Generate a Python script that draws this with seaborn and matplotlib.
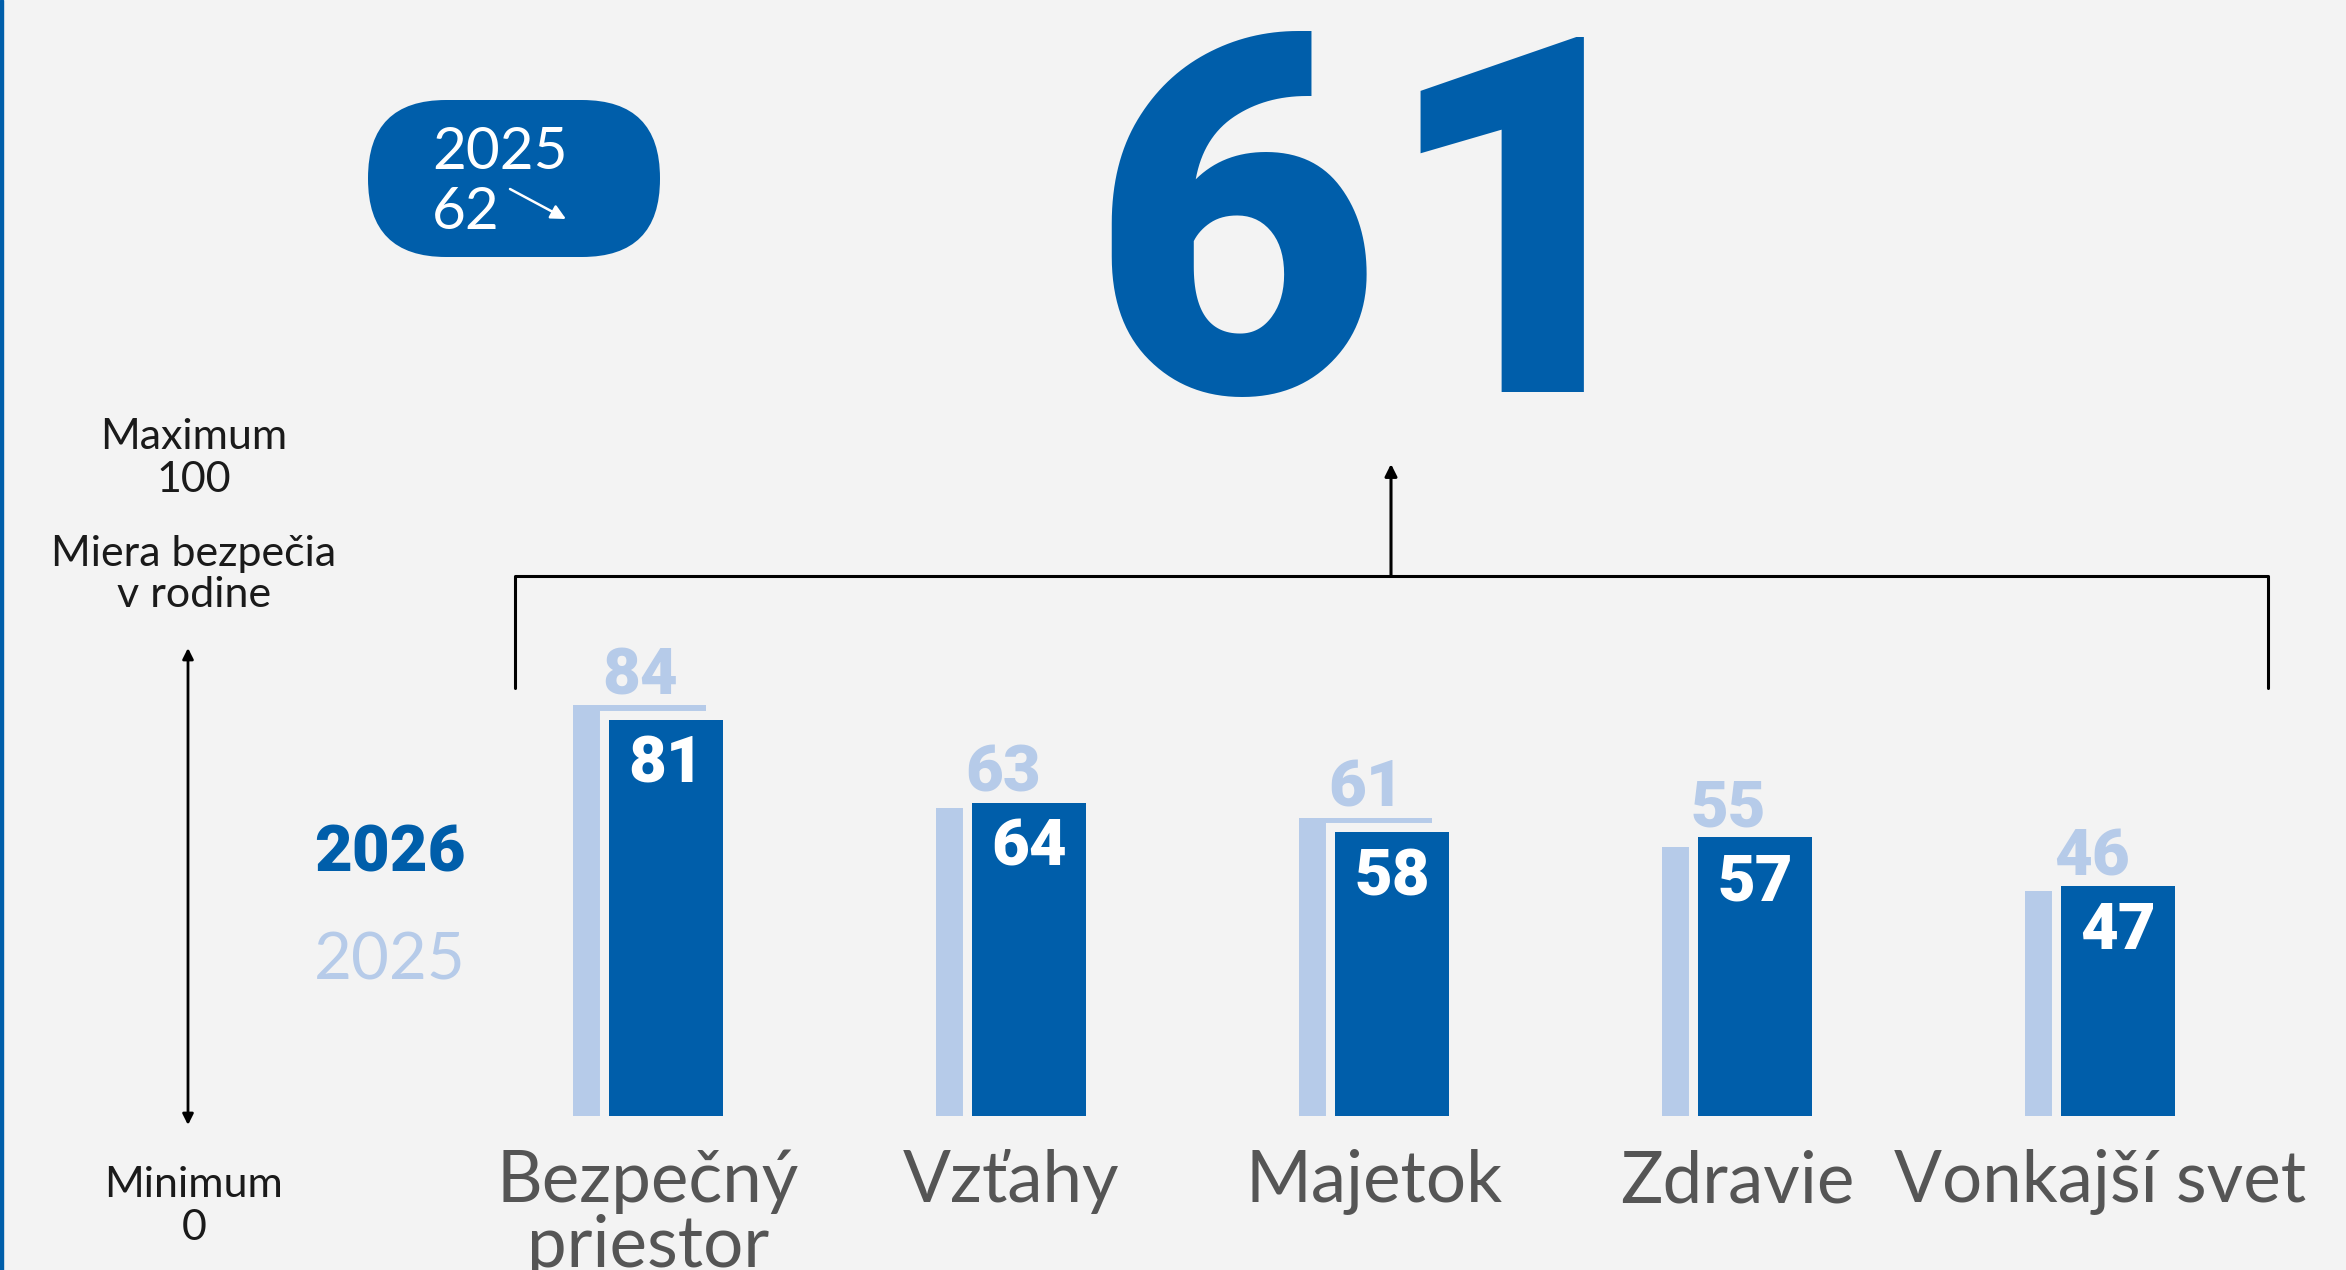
import matplotlib
matplotlib.use("Agg")
import matplotlib.pyplot as plt
import matplotlib.patheffects as pe
from matplotlib.patches import FancyBboxPatch
import seaborn as sns

# data
categories = ["Bezpečný\npriestor", "Vzťahy", "Majetok", "Zdravie", "Vonkajší svet"]
v2026 = [81, 64, 58, 57, 47]
v2025 = [84, 63, 61, 55, 46]
total_2026 = 61
total_2025 = 62

bg = "#f3f3f3"
dark = "#005eaa"
light = "#b6cbe9"
grey = "#555555"
ink = "#1a1a1a"
numfont = ["Roboto", "DejaVu Sans"]

sns.set_style("white")
plt.rcParams['font.family'] = ['Lato', 'DejaVu Sans']

W, H = 2346, 1270
fig = plt.figure(figsize=(W / 100, H / 100), dpi=100, facecolor=bg)

# overlay in pixel units (y down) for the decorations
over = fig.add_axes([0, 0, 1, 1], zorder=0)
over.set_xlim(0, W)
over.set_ylim(H, 0)
over.axis("off")

# bar axes
ax = fig.add_axes([466.5 / W, 154 / H, 1815 / W, 489 / H], zorder=1)
ax.patch.set_visible(False)

sns.barplot(x=categories, y=v2025, color=light, width=0.366, saturation=1, ax=ax)
n_light = len(ax.patches)
sns.barplot(x=categories, y=v2026, color=dark, width=0.314, saturation=1, ax=ax)
light_bars = ax.patches[:n_light]
dark_bars = ax.patches[n_light:]

for p in light_bars:
    p.set_x(p.get_x() - 0.023)
    p.set_linewidth(0)
for p in dark_bars:
    p.set_x(p.get_x() + 0.05)
    p.set_linewidth(0)
    p.set_path_effects([pe.withStroke(linewidth=13, foreground=bg)])

ax.set_ylim(0, 100)
ax.set_xlim(-0.5, 4.5)
ax.set_yticks([])
ax.set_ylabel("")
ax.tick_params(axis="x", length=0, pad=24, labelsize=51, labelcolor=grey)
for t in ax.get_xticklabels():
    t.set_linespacing(1.0)
sns.despine(ax=ax, left=True, bottom=True)

# value labels
for p, v in zip(dark_bars, v2026):
    ax.annotate(str(v), (p.get_x() + p.get_width() / 2, p.get_height()),
                xytext=(0, -10), textcoords="offset points", ha="center", va="top",
                color="white", fontsize=47, fontweight="black", family=numfont)
for p, v, v2 in zip(light_bars, v2025, v2026):
    ax.annotate(str(v), (p.get_x() + p.get_width() / 2, max(v, v2)),
                xytext=(0, 8), textcoords="offset points", ha="center", va="baseline",
                color=light, fontsize=47, fontweight="black", family=numfont)

# left blue border
over.axvspan(0, 3, color=dark)

# big total
over.text(1380, 392, str(total_2026), ha="center", va="baseline", color=dark,
          fontsize=360, fontweight="black", family=numfont)

# pill with previous year
pill = FancyBboxPatch((368, 100), 292, 157, boxstyle="round,pad=0,rounding_size=78",
                      fc=dark, ec="none")
over.add_patch(pill)
over.text(432, 169, "2025", color="white", fontsize=42, va="baseline")
over.text(432, 229, str(total_2025), color="white", fontsize=42, va="baseline")
over.annotate("", xy=(566, 219), xytext=(510, 189),
              arrowprops=dict(arrowstyle="-|>", color="white", lw=1.8, mutation_scale=22,
                              shrinkA=0, shrinkB=0))

# bracket + arrow to total
over.plot([515, 515, 2268, 2268], [688, 576, 576, 688], color="black", lw=2.2)
over.annotate("", xy=(1391, 464), xytext=(1391, 576),
              arrowprops=dict(arrowstyle="-|>", color="black", lw=2.2, mutation_scale=18,
                              shrinkA=0, shrinkB=0))

# left scale
lx = 194
for txt, yb in [("Maximum", 449), ("100", 492), ("Miera bezpečia", 566),
                ("v rodine", 607), ("Minimum", 1197), ("0", 1240)]:
    over.text(lx, yb, txt, ha="center", va="baseline", fontsize=31, color=ink)
over.annotate("", xy=(188, 648), xytext=(188, 1125),
              arrowprops=dict(arrowstyle="<|-|>", color="black", lw=2, mutation_scale=16,
                              shrinkA=0, shrinkB=0))

# legend years
over.text(314, 871, "2026", color=dark, fontsize=47, fontweight="black", va="baseline",
          family=numfont)
over.text(314, 980, "2025", color=light, fontsize=47, va="baseline")

fig.savefig("out.png", dpi=100, facecolor=bg)
